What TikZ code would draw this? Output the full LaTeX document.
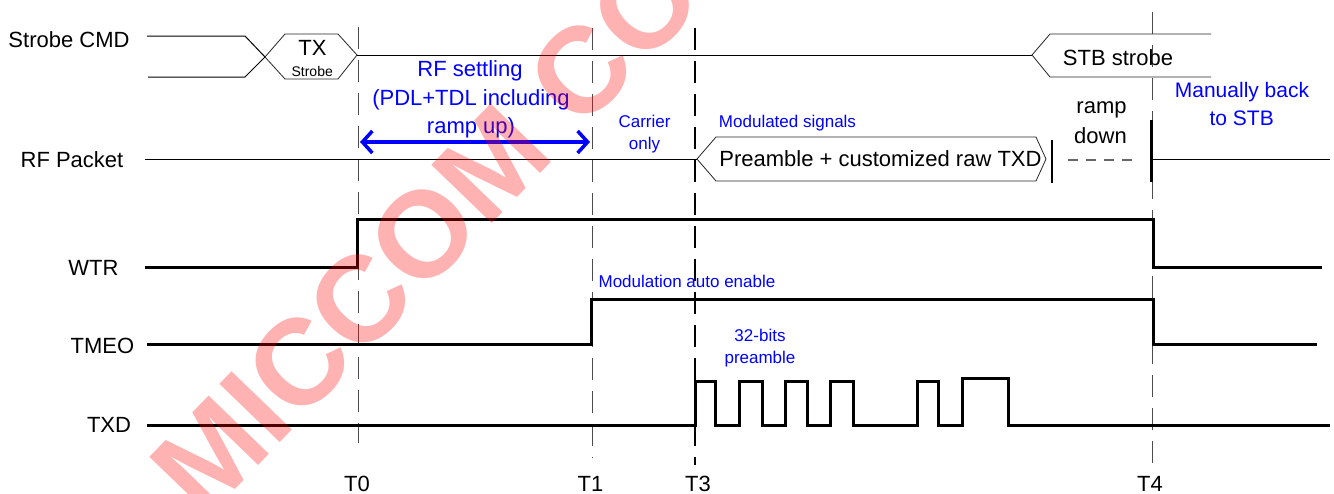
\documentclass[tikz,border=0pt]{standalone}
\usepackage{fontspec}
\setmainfont{Liberation Sans}
\usetikzlibrary{arrows.meta}
\begin{document}
\begin{tikzpicture}[x=1pt,y=-1pt,
 lbl/.style={font=\fontsize{22}{26}\selectfont, inner sep=0pt, anchor=base},
 bl/.style={font=\fontsize{17}{20}\selectfont, text=blue, inner sep=0pt, anchor=base},
 blbig/.style={font=\fontsize{22}{26}\selectfont, text=blue, inner sep=0pt, anchor=base},
 thinline/.style={line width=1pt},
 hexline/.style={line width=0.8pt, draw=black!85},
 sig/.style={line width=3pt, line join=miter},
 hollowdash/.style={draw=black!70, line width=0.7pt, double=white, double distance=1.6pt, dash pattern=on 22pt off 11pt},
 solidmark/.style={line width=2.6pt, dash pattern=on 22pt off 11pt},
 bluearrow/.style={draw=blue, line width=3.5pt, {Straight Barb[length=10pt,width=22pt]}-{Straight Barb[length=10pt,width=22pt]}}
]
\useasboundingbox (0,0) rectangle (1334,493);
\fill[white] (0,0) rectangle (1334,493);

% signal names
\node[lbl] (lstrobe) at (69,47.5) {Strobe CMD};
\node[lbl] (lrf) at (72,167.5) {RF Packet};
\node[lbl] (lwtr) at (93.5,275) {WTR};
\node[lbl] (ltmeo) at (102.5,353) {TMEO};
\node[lbl] (ltxd) at (109,432) {TXD};

% time labels
\node[lbl] (t0) at (357,491) {T0};
\node[lbl] (t1) at (590.5,491) {T1};
\node[lbl] (t3) at (698,491) {T3};
\node[lbl] (t4) at (1150,491) {T4};

% time markers
\coordinate (t0top) at (357,27);  \coordinate (t0bot) at (357,443);
\coordinate (t1top) at (591,28);  \coordinate (t1bot) at (591,458);
\coordinate (t3top) at (695,28);  \coordinate (t3bot) at (695,465);
\coordinate (t4top) at (1151,12); \coordinate (t4bot) at (1151,463);
\draw[hollowdash] (t0top) -- (t0bot);
\draw[hollowdash] (t1top) -- (t1bot);
\draw[hollowdash] (t4top) -- (t4bot);
\draw[solidmark] (t3top) -- (t3bot);

% Strobe CMD
\draw[thinline] (147,36) -- (245,36) -- (265,57);
\draw[thinline] (148,77) -- (245,77) -- (265,57);
\draw[hexline] (265,57) -- (285,34) -- (338,34) -- (357,55) -- (338,79) -- (285,79) -- cycle;
\node[font=\fontsize{22}{26}\selectfont, inner sep=0pt, anchor=base] (tx) at (312.5,55) {TX};
\node[font=\fontsize{14}{16}\selectfont, inner sep=0pt, anchor=base] (txs) at (312.2,76) {Strobe};
\draw[thinline] (357,55) -- (1032,55);
\draw[hexline] (1211,34) -- (1050,34) -- (1032,55) -- (1050,77) -- (1211,77);
\node[lbl] (stb) at (1118,65) {STB strobe};

% RF settling
\node[blbig] (rf1) at (470,76) {RF settling};
\node[blbig] (rf2) at (471,105.5) {(PDL+TDL including};
\node[blbig] (rf3) at (471,133) {ramp up)};
\coordinate (arrL) at (360,142);
\coordinate (arrR) at (590,142);
\draw[bluearrow] (arrL) -- (arrR);

\node[bl] (car1) at (644.5,127) {Carrier};
\node[bl] (car2) at (644.5,149.5) {only};
\node[bl] (mods) at (787.5,127) {Modulated signals};

% RF packet
\draw[thinline] (145,159) -- (697,159);
\draw[hexline] (697,159) -- (716,137) -- (1036,137) -- (1046,159) -- (1036,181) -- (716,181) -- cycle;
\node[lbl] (pre) at (880.5,166) {Preamble + customized raw TXD};
\draw[line width=2pt] (1052,140) -- (1052,183);
\draw[black!60, line width=1.2pt, dash pattern=on 10pt off 8pt] (1068,160) -- (1136,160);
\draw[line width=3pt] (1151,120) -- (1151,182);
\draw[thinline] (1152,159) -- (1330,159);
\node[lbl] (rd1) at (1101.5,113.5) {ramp};
\node[lbl] (rd2) at (1100.5,143.5) {down};
\node[font=\fontsize{21}{24}\selectfont, text=blue, inner sep=0pt, anchor=base] (man1) at (1242,97.5) {Manually back};
\node[font=\fontsize{21}{24}\selectfont, text=blue, inner sep=0pt, anchor=base] (man2) at (1241.7,125.5) {to STB};

% WTR
\draw[sig] (145,267) -- (357,267) -- (357,219) -- (1153,219) -- (1153,267) -- (1322,267);
% TMEO
\draw[sig] (147,344) -- (591,344) -- (591,299) -- (1153,299) -- (1153,344) -- (1317,344);
\node[bl] (modauto) at (687,287) {Modulation auto enable};
% TXD
\draw[sig] (147,425) -- (695,425) -- (695,381) -- (715,381) -- (715,425) -- (739,425) -- (739,381)
  -- (762,381) -- (762,425) -- (785,425) -- (785,381) -- (807,381) -- (807,425) -- (830,425)
  -- (830,381) -- (853,381) -- (853,425) -- (917,425) -- (917,381) -- (938,381) -- (938,425)
  -- (962,425) -- (962,378) -- (1008,378) -- (1008,425) -- (1330,425);
\node[bl] (b32) at (760,341) {32-bits};
\node[bl] (bpre) at (760,363) {preamble};

% watermark
\node[font=\fontsize{122}{122}\selectfont\bfseries, text=red, text opacity=0.3, rotate=46, inner sep=0pt] (wm) at (426,232) {MICCOM CO};
\end{tikzpicture}
\end{document}
